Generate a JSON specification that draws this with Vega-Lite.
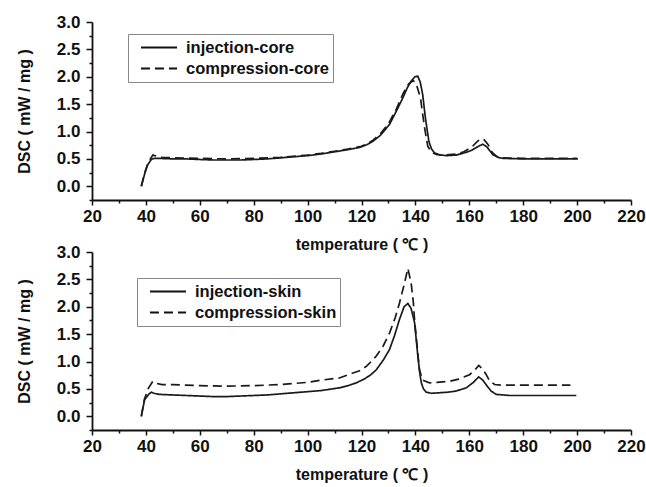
{
  "$schema": "https://vega.github.io/schema/vega-lite/v6.json",
  "padding": {"left": 16, "top": 13, "right": 5, "bottom": 5},
  "background": "white",
  "bounds": "flush",
  "spacing": 52,
  "config": {
    "view": {"stroke": null},
    "font": "Liberation Sans",
    "axis": {
      "labelFont": "Liberation Sans", "labelFontWeight": "bold", "labelFontSize": 17, "labelColor": "#111",
      "titleFont": "Liberation Sans", "titleFontWeight": "bold", "titleFontSize": 16, "titleColor": "#111",
      "domainColor": "#111", "domainWidth": 1.8, "tickColor": "#111", "tickWidth": 1.5, "grid": false,
      "labelOverlap": false, "labelFlush": false
    },
    "legend": {
      "orient": "none", "title": null, "strokeColor": "#888", "fillColor": "white", "padding": 3,
      "symbolType": "stroke", "symbolSize": 1300, "symbolStrokeWidth": 1.8, "symbolStrokeColor": "#111",
      "symbolOffset": 9, "clipHeight": 21,
      "labelFont": "Liberation Sans", "labelFontSize": 16.5, "labelFontWeight": "bold", "labelColor": "#111",
      "labelOffset": 8, "rowPadding": 0
    }
  },
  "datasets": {
    "core": [
      {"T": 38.3, "v": 0.0, "s": "injection-core"},
      {"T": 39.5, "v": 0.22, "s": "injection-core"},
      {"T": 40.5, "v": 0.38, "s": "injection-core"},
      {"T": 42, "v": 0.49, "s": "injection-core"},
      {"T": 43, "v": 0.51, "s": "injection-core"},
      {"T": 45, "v": 0.51, "s": "injection-core"},
      {"T": 50, "v": 0.5, "s": "injection-core"},
      {"T": 55, "v": 0.5, "s": "injection-core"},
      {"T": 60, "v": 0.49, "s": "injection-core"},
      {"T": 65, "v": 0.48, "s": "injection-core"},
      {"T": 70, "v": 0.48, "s": "injection-core"},
      {"T": 75, "v": 0.48, "s": "injection-core"},
      {"T": 80, "v": 0.49, "s": "injection-core"},
      {"T": 85, "v": 0.5, "s": "injection-core"},
      {"T": 90, "v": 0.52, "s": "injection-core"},
      {"T": 95, "v": 0.54, "s": "injection-core"},
      {"T": 100, "v": 0.56, "s": "injection-core"},
      {"T": 105, "v": 0.59, "s": "injection-core"},
      {"T": 110, "v": 0.63, "s": "injection-core"},
      {"T": 115, "v": 0.67, "s": "injection-core"},
      {"T": 119.3, "v": 0.71, "s": "injection-core"},
      {"T": 122, "v": 0.76, "s": "injection-core"},
      {"T": 124.2, "v": 0.82, "s": "injection-core"},
      {"T": 127, "v": 0.93, "s": "injection-core"},
      {"T": 130.4, "v": 1.13, "s": "injection-core"},
      {"T": 133, "v": 1.38, "s": "injection-core"},
      {"T": 135.3, "v": 1.61, "s": "injection-core"},
      {"T": 137, "v": 1.8, "s": "injection-core"},
      {"T": 138.4, "v": 1.92, "s": "injection-core"},
      {"T": 139.8, "v": 2.0, "s": "injection-core"},
      {"T": 140.9, "v": 2.01, "s": "injection-core"},
      {"T": 141.8, "v": 1.9, "s": "injection-core"},
      {"T": 142.7, "v": 1.68, "s": "injection-core"},
      {"T": 143.7, "v": 1.25, "s": "injection-core"},
      {"T": 145, "v": 0.82, "s": "injection-core"},
      {"T": 146, "v": 0.68, "s": "injection-core"},
      {"T": 147.1, "v": 0.61, "s": "injection-core"},
      {"T": 149, "v": 0.575, "s": "injection-core"},
      {"T": 151.4, "v": 0.56, "s": "injection-core"},
      {"T": 155, "v": 0.57, "s": "injection-core"},
      {"T": 158.9, "v": 0.62, "s": "injection-core"},
      {"T": 161, "v": 0.66, "s": "injection-core"},
      {"T": 163, "v": 0.72, "s": "injection-core"},
      {"T": 165, "v": 0.77, "s": "injection-core"},
      {"T": 166.5, "v": 0.72, "s": "injection-core"},
      {"T": 168.7, "v": 0.58, "s": "injection-core"},
      {"T": 170.5, "v": 0.53, "s": "injection-core"},
      {"T": 172.4, "v": 0.51, "s": "injection-core"},
      {"T": 180, "v": 0.5, "s": "injection-core"},
      {"T": 190, "v": 0.5, "s": "injection-core"},
      {"T": 200.3, "v": 0.5, "s": "injection-core"},
      {"T": 38.3, "v": 0.0, "s": "compression-core"},
      {"T": 39.5, "v": 0.24, "s": "compression-core"},
      {"T": 41, "v": 0.45, "s": "compression-core"},
      {"T": 42.6, "v": 0.57, "s": "compression-core"},
      {"T": 44, "v": 0.55, "s": "compression-core"},
      {"T": 46, "v": 0.53, "s": "compression-core"},
      {"T": 50, "v": 0.52, "s": "compression-core"},
      {"T": 60, "v": 0.51, "s": "compression-core"},
      {"T": 70, "v": 0.5, "s": "compression-core"},
      {"T": 80, "v": 0.51, "s": "compression-core"},
      {"T": 90, "v": 0.53, "s": "compression-core"},
      {"T": 100, "v": 0.57, "s": "compression-core"},
      {"T": 105, "v": 0.6, "s": "compression-core"},
      {"T": 110, "v": 0.64, "s": "compression-core"},
      {"T": 115, "v": 0.68, "s": "compression-core"},
      {"T": 120, "v": 0.73, "s": "compression-core"},
      {"T": 124, "v": 0.83, "s": "compression-core"},
      {"T": 127, "v": 0.96, "s": "compression-core"},
      {"T": 130, "v": 1.14, "s": "compression-core"},
      {"T": 133, "v": 1.42, "s": "compression-core"},
      {"T": 135.5, "v": 1.7, "s": "compression-core"},
      {"T": 137.5, "v": 1.87, "s": "compression-core"},
      {"T": 139.3, "v": 1.93, "s": "compression-core"},
      {"T": 140.5, "v": 1.84, "s": "compression-core"},
      {"T": 141.9, "v": 1.61, "s": "compression-core"},
      {"T": 142.6, "v": 1.35, "s": "compression-core"},
      {"T": 143.4, "v": 1.07, "s": "compression-core"},
      {"T": 144.6, "v": 0.73, "s": "compression-core"},
      {"T": 146, "v": 0.62, "s": "compression-core"},
      {"T": 148, "v": 0.58, "s": "compression-core"},
      {"T": 151, "v": 0.57, "s": "compression-core"},
      {"T": 155, "v": 0.59, "s": "compression-core"},
      {"T": 158, "v": 0.63, "s": "compression-core"},
      {"T": 161, "v": 0.72, "s": "compression-core"},
      {"T": 163, "v": 0.82, "s": "compression-core"},
      {"T": 164.4, "v": 0.87, "s": "compression-core"},
      {"T": 165.5, "v": 0.85, "s": "compression-core"},
      {"T": 167, "v": 0.76, "s": "compression-core"},
      {"T": 168.5, "v": 0.62, "s": "compression-core"},
      {"T": 170, "v": 0.55, "s": "compression-core"},
      {"T": 172, "v": 0.52, "s": "compression-core"},
      {"T": 180, "v": 0.51, "s": "compression-core"},
      {"T": 190, "v": 0.51, "s": "compression-core"},
      {"T": 200, "v": 0.51, "s": "compression-core"}
    ],
    "skin": [
      {"T": 38.3, "v": 0.0, "s": "injection-skin"},
      {"T": 39.5, "v": 0.3, "s": "injection-skin"},
      {"T": 41, "v": 0.4, "s": "injection-skin"},
      {"T": 42, "v": 0.44, "s": "injection-skin"},
      {"T": 43, "v": 0.42, "s": "injection-skin"},
      {"T": 45, "v": 0.4, "s": "injection-skin"},
      {"T": 50, "v": 0.39, "s": "injection-skin"},
      {"T": 55, "v": 0.38, "s": "injection-skin"},
      {"T": 60, "v": 0.37, "s": "injection-skin"},
      {"T": 65, "v": 0.36, "s": "injection-skin"},
      {"T": 70, "v": 0.36, "s": "injection-skin"},
      {"T": 75, "v": 0.37, "s": "injection-skin"},
      {"T": 80, "v": 0.38, "s": "injection-skin"},
      {"T": 85, "v": 0.39, "s": "injection-skin"},
      {"T": 90, "v": 0.41, "s": "injection-skin"},
      {"T": 95, "v": 0.43, "s": "injection-skin"},
      {"T": 100, "v": 0.45, "s": "injection-skin"},
      {"T": 105, "v": 0.47, "s": "injection-skin"},
      {"T": 111.8, "v": 0.52, "s": "injection-skin"},
      {"T": 115, "v": 0.56, "s": "injection-skin"},
      {"T": 118, "v": 0.61, "s": "injection-skin"},
      {"T": 121, "v": 0.68, "s": "injection-skin"},
      {"T": 123.5, "v": 0.76, "s": "injection-skin"},
      {"T": 125.5, "v": 0.85, "s": "injection-skin"},
      {"T": 128, "v": 1.02, "s": "injection-skin"},
      {"T": 130.4, "v": 1.22, "s": "injection-skin"},
      {"T": 132.3, "v": 1.48, "s": "injection-skin"},
      {"T": 134.1, "v": 1.77, "s": "injection-skin"},
      {"T": 135.8, "v": 2.0, "s": "injection-skin"},
      {"T": 137.2, "v": 2.06, "s": "injection-skin"},
      {"T": 138.4, "v": 1.97, "s": "injection-skin"},
      {"T": 139.7, "v": 1.71, "s": "injection-skin"},
      {"T": 140.9, "v": 1.1, "s": "injection-skin"},
      {"T": 141.6, "v": 0.8, "s": "injection-skin"},
      {"T": 142.2, "v": 0.61, "s": "injection-skin"},
      {"T": 143, "v": 0.5, "s": "injection-skin"},
      {"T": 144, "v": 0.44, "s": "injection-skin"},
      {"T": 146, "v": 0.42, "s": "injection-skin"},
      {"T": 149, "v": 0.43, "s": "injection-skin"},
      {"T": 152, "v": 0.44, "s": "injection-skin"},
      {"T": 155, "v": 0.46, "s": "injection-skin"},
      {"T": 158.9, "v": 0.52, "s": "injection-skin"},
      {"T": 161.5, "v": 0.62, "s": "injection-skin"},
      {"T": 163.5, "v": 0.72, "s": "injection-skin"},
      {"T": 165, "v": 0.66, "s": "injection-skin"},
      {"T": 166.5, "v": 0.56, "s": "injection-skin"},
      {"T": 168.1, "v": 0.46, "s": "injection-skin"},
      {"T": 170, "v": 0.4, "s": "injection-skin"},
      {"T": 175, "v": 0.38, "s": "injection-skin"},
      {"T": 180, "v": 0.38, "s": "injection-skin"},
      {"T": 190, "v": 0.38, "s": "injection-skin"},
      {"T": 199.7, "v": 0.38, "s": "injection-skin"},
      {"T": 38.3, "v": 0.0, "s": "compression-skin"},
      {"T": 39.5, "v": 0.32, "s": "compression-skin"},
      {"T": 41, "v": 0.52, "s": "compression-skin"},
      {"T": 42.6, "v": 0.64, "s": "compression-skin"},
      {"T": 44, "v": 0.6, "s": "compression-skin"},
      {"T": 46, "v": 0.58, "s": "compression-skin"},
      {"T": 50, "v": 0.58, "s": "compression-skin"},
      {"T": 60, "v": 0.56, "s": "compression-skin"},
      {"T": 70, "v": 0.55, "s": "compression-skin"},
      {"T": 80, "v": 0.56, "s": "compression-skin"},
      {"T": 90, "v": 0.58, "s": "compression-skin"},
      {"T": 100, "v": 0.62, "s": "compression-skin"},
      {"T": 105, "v": 0.66, "s": "compression-skin"},
      {"T": 111.8, "v": 0.7, "s": "compression-skin"},
      {"T": 116.8, "v": 0.79, "s": "compression-skin"},
      {"T": 119.3, "v": 0.83, "s": "compression-skin"},
      {"T": 122, "v": 0.92, "s": "compression-skin"},
      {"T": 125.5, "v": 1.1, "s": "compression-skin"},
      {"T": 128, "v": 1.28, "s": "compression-skin"},
      {"T": 130.4, "v": 1.52, "s": "compression-skin"},
      {"T": 132.5, "v": 1.8, "s": "compression-skin"},
      {"T": 134.1, "v": 2.07, "s": "compression-skin"},
      {"T": 136, "v": 2.44, "s": "compression-skin"},
      {"T": 137.2, "v": 2.7, "s": "compression-skin"},
      {"T": 138.4, "v": 2.44, "s": "compression-skin"},
      {"T": 139.2, "v": 2.1, "s": "compression-skin"},
      {"T": 139.7, "v": 1.75, "s": "compression-skin"},
      {"T": 140.6, "v": 1.3, "s": "compression-skin"},
      {"T": 141.5, "v": 0.85, "s": "compression-skin"},
      {"T": 142.7, "v": 0.66, "s": "compression-skin"},
      {"T": 145.2, "v": 0.61, "s": "compression-skin"},
      {"T": 148, "v": 0.62, "s": "compression-skin"},
      {"T": 152.7, "v": 0.64, "s": "compression-skin"},
      {"T": 156, "v": 0.68, "s": "compression-skin"},
      {"T": 160.1, "v": 0.76, "s": "compression-skin"},
      {"T": 162, "v": 0.84, "s": "compression-skin"},
      {"T": 163.5, "v": 0.93, "s": "compression-skin"},
      {"T": 165, "v": 0.86, "s": "compression-skin"},
      {"T": 166.3, "v": 0.76, "s": "compression-skin"},
      {"T": 167.5, "v": 0.65, "s": "compression-skin"},
      {"T": 169.4, "v": 0.58, "s": "compression-skin"},
      {"T": 172, "v": 0.57, "s": "compression-skin"},
      {"T": 180, "v": 0.57, "s": "compression-skin"},
      {"T": 190, "v": 0.57, "s": "compression-skin"},
      {"T": 197.5, "v": 0.57, "s": "compression-skin"}
    ]
  },
  "resolve": {"scale": {"strokeDash": "independent"}, "legend": {"strokeDash": "independent"}},
  "vconcat": [
    {
      "width": 539, "height": 178,
      "data": {"name": "core"},
      "layer": [
        {
          "mark": {"type": "line", "color": "#1a1a1a", "strokeWidth": 1.7},
          "encoding": {
            "x": {"field": "T", "type": "quantitative", "scale": {"domain": [20, 220], "nice": false, "zero": false},
                  "axis": {"values": [20, 40, 60, 80, 100, 120, 140, 160, 180, 200, 220], "title": "temperature ( ℃ )", "tickSize": 5, "labelPadding": 3, "titlePadding": 12, "orient": "bottom"}},
            "y": {"field": "v", "type": "quantitative", "scale": {"domain": [-0.25, 3.0], "nice": false, "zero": false},
                  "axis": {"values": [0, 0.5, 1, 1.5, 2, 2.5, 3], "format": ".1f", "title": "DSC ( mW / mg )", "tickSize": 6, "labelPadding": 6, "titlePadding": 24, "orient": "left"}},
            "strokeDash": {"field": "s", "type": "nominal", "sort": ["injection-core", "compression-core"],
                  "scale": {"domain": ["injection-core", "compression-core"], "range": [[1, 0], [9, 5]]},
                  "legend": {"legendX": 36, "legendY": 12}}
          }
        },
        {
          "mark": {"type": "line", "opacity": 0},
          "encoding": {
            "x": {"field": "T", "type": "quantitative", "axis": {"values": [30, 50, 70, 90, 110, 130, 150, 170, 190, 210], "labels": false, "domain": false, "title": null, "tickSize": 3, "orient": "bottom"}},
            "y": {"field": "v", "type": "quantitative", "axis": {"values": [-0.25, 0.25, 0.75, 1.25, 1.75, 2.25, 2.75], "labels": false, "domain": false, "title": null, "tickSize": 3, "orient": "left"}},
            "detail": {"field": "s", "type": "nominal"}
          }
        }
      ],
      "resolve": {"axis": {"x": "independent", "y": "independent"}}
    },
    {
      "width": 539, "height": 178,
      "data": {"name": "skin"},
      "layer": [
        {
          "mark": {"type": "line", "color": "#1a1a1a", "strokeWidth": 1.7},
          "encoding": {
            "x": {"field": "T", "type": "quantitative", "scale": {"domain": [20, 220], "nice": false, "zero": false},
                  "axis": {"values": [20, 40, 60, 80, 100, 120, 140, 160, 180, 200, 220], "title": "temperature ( ℃ )", "tickSize": 5, "labelPadding": 3, "titlePadding": 12, "orient": "bottom"}},
            "y": {"field": "v", "type": "quantitative", "scale": {"domain": [-0.25, 3.0], "nice": false, "zero": false},
                  "axis": {"values": [0, 0.5, 1, 1.5, 2, 2.5, 3], "format": ".1f", "title": "DSC ( mW / mg )", "tickSize": 6, "labelPadding": 6, "titlePadding": 24, "orient": "left"}},
            "strokeDash": {"field": "s", "type": "nominal", "sort": ["injection-skin", "compression-skin"],
                  "scale": {"domain": ["injection-skin", "compression-skin"], "range": [[1, 0], [9, 5]]},
                  "legend": {"legendX": 45, "legendY": 26}}
          }
        },
        {
          "mark": {"type": "line", "opacity": 0},
          "encoding": {
            "x": {"field": "T", "type": "quantitative", "axis": {"values": [30, 50, 70, 90, 110, 130, 150, 170, 190, 210], "labels": false, "domain": false, "title": null, "tickSize": 3, "orient": "bottom"}},
            "y": {"field": "v", "type": "quantitative", "axis": {"values": [-0.25, 0.25, 0.75, 1.25, 1.75, 2.25, 2.75], "labels": false, "domain": false, "title": null, "tickSize": 3, "orient": "left"}},
            "detail": {"field": "s", "type": "nominal"}
          }
        }
      ],
      "resolve": {"axis": {"x": "independent", "y": "independent"}}
    }
  ]
}
